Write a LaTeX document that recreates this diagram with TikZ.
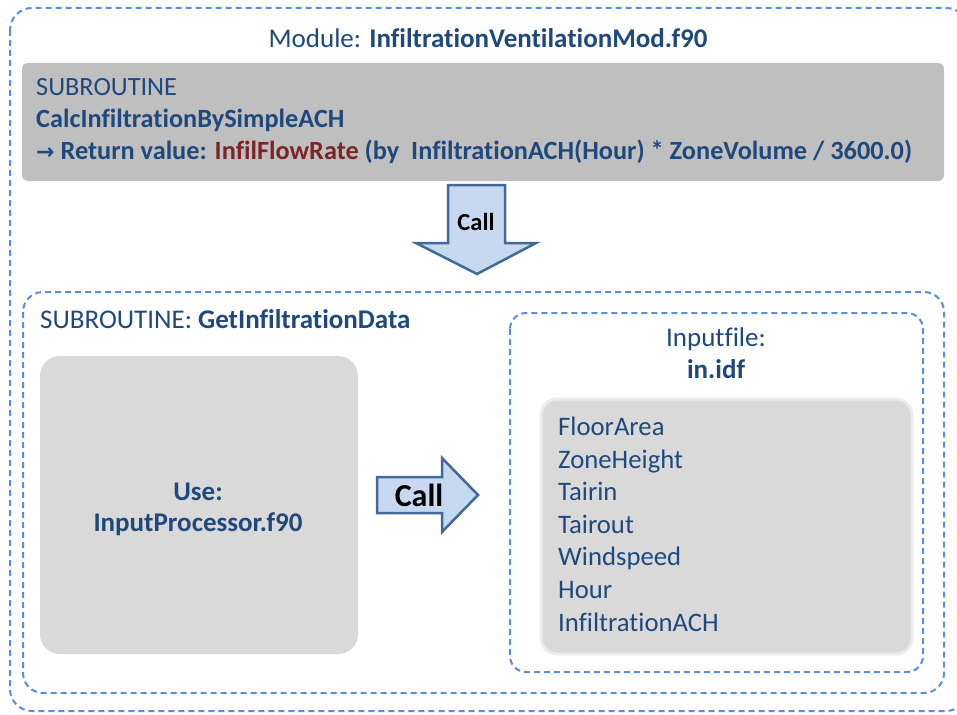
\documentclass[tikz,border=0pt]{standalone}
\usepackage{fontspec}
\setmainfont{Carlito}[Ligatures={NoCommon}]
\definecolor{dashblue}{HTML}{5B8ED6}
\definecolor{txtblue}{HTML}{1F497D}
\definecolor{darkred}{HTML}{7A2626}
\definecolor{boxgray}{HTML}{BFBFBF}
\definecolor{lightgray}{HTML}{D9D9D9}
\definecolor{arrowfill}{HTML}{C6D9F1}
\definecolor{arrowline}{HTML}{41699A}
\tikzset{
  dashbox/.style={draw=dashblue, line width=2pt, dash pattern=on 6pt off 4pt},
  txt/.style={inner sep=0pt, text=txtblue, font=\fontsize{27}{31}\selectfont},
  toptxt/.style={inner sep=0pt, text=txtblue, anchor=base west, font=\fontsize{26.3}{30}\selectfont},
  listtxt/.style={inner sep=0pt, text=txtblue, anchor=base west, font=\fontsize{26.7}{30}\selectfont},
  callarrow/.style={fill=arrowfill, draw=arrowline, line width=2.5pt, line join=miter},
}
\begin{document}
\begin{tikzpicture}[x=1pt,y=-1pt]
\useasboundingbox (0,0) rectangle (957,714);
% outer module box
\draw[dashbox, rounded corners=22pt] (10,8) rectangle (968,711);
\node[txt, anchor=base] (title) at (488,48) {Module: \textbf{InfiltrationVentilationMod.f90}};
% top subroutine box
\fill[boxgray, rounded corners=6pt] (22,63) rectangle (944,181);
\node[toptxt] (sub1) at (36,96) {SUBROUTINE};
\node[toptxt] (sub1name) at (36,128) {\textbf{CalcInfiltrationBySimpleACH}};
\node[toptxt] (ret) at (36,160) {\textbf{{\fontspec{DejaVu Sans}\fontsize{22}{26}\selectfont →} Return value: \textcolor{darkred}{InfilFlowRate} (by\ \ InfiltrationACH(Hour) * ZoneVolume / 3600.0)}};
% down arrow
\draw[callarrow] (448,185) -- (505,185) -- (505,243) -- (536,243) -- (477,274) -- (416,243) -- (448,243) -- cycle;
\node[inner sep=0pt, anchor=base, font=\fontsize{24.5}{28}\selectfont\bfseries] (call1) at (476,230) {Call};
% middle subroutine box
\draw[dashbox, rounded corners=20pt] (23,292) rectangle (944,693);
\node[txt, anchor=base west] (sub2) at (40,328) {SUBROUTINE: \textbf{GetInfiltrationData}};
% use box
\fill[lightgray, rounded corners=20pt] (40,356) rectangle (358,654);
\node[txt, anchor=base] (use) at (198,500) {\textbf{Use:}};
\node[txt, anchor=base] (inproc) at (198,531) {\textbf{InputProcessor.f90}};
% right arrow
\draw[callarrow] (377,477) -- (442,477) -- (442,458) -- (478,495) -- (442,532) -- (442,513) -- (377,513) -- cycle;
\node[inner sep=0pt, anchor=base, font=\fontsize{32}{36}\selectfont\bfseries] (call2) at (419,506) {Call};
% input file box
\draw[dashbox, rounded corners=16pt] (510,313) rectangle (923,672);
\node[txt, anchor=base] (inpf) at (716,346) {Inputfile:};
\node[txt, anchor=base] (idf) at (716,378) {\textbf{in.idf}};
\draw[fill=lightgray, rounded corners=16pt, draw=gray!15, line width=3pt] (541,399) rectangle (912,654);
\node[listtxt] (v1) at (558,435) {FloorArea};
\node[listtxt] (v2) at (558,468) {ZoneHeight};
\node[listtxt] (v3) at (558,500) {Tairin};
\node[listtxt] (v4) at (558,533) {Tairout};
\node[listtxt] (v5) at (558,565) {Windspeed};
\node[listtxt] (v6) at (558,598) {Hour};
\node[listtxt] (v7) at (558,631) {InfiltrationACH};
\end{tikzpicture}
\end{document}
